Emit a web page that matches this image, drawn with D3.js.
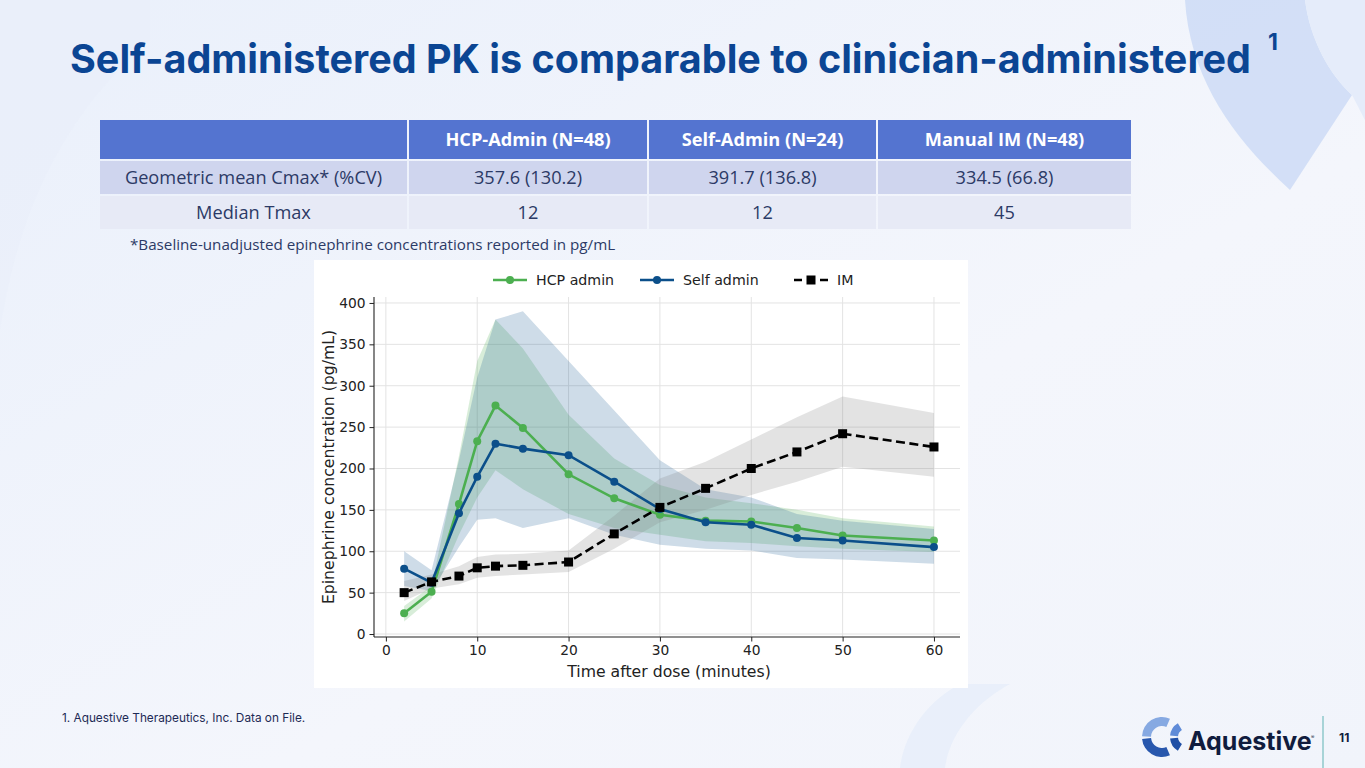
<!DOCTYPE html>
<html>
<head>
<meta charset="utf-8">
<script src="https://cdn.jsdelivr.net/npm/d3@7"></script>
<style>
  body { margin: 0; overflow: hidden; }
  svg { display: block; }
</style>
</head>
<body>
<script>
// page size
const width = 1365;
const height = 768;

// PK data
const times    = [2, 5, 8, 10, 12, 15, 20, 25, 30, 35, 40, 45, 50, 60];
const hcpMean  = [25, 51, 157, 233, 276, 249, 193, 164, 144, 137, 136, 128, 119, 113];
const hcpLow   = [15, 43, 120, 165, 198, 175, 145, 128, 120, 112, 110, 106, 103, 99];
const hcpHigh  = [34, 58, 215, 330, 380, 345, 265, 212, 180, 165, 158, 150, 140, 130];
const selfMean = [79, 62, 146, 190, 230, 224, 216, 184, 151, 135, 132, 116, 113, 105];
const selfLow  = [58, 52, 105, 138, 140, 128, 140, 120, 108, 103, 101, 92, 90, 85];
const selfHigh = [100, 77, 210, 310, 380, 390, 330, 270, 210, 175, 165, 145, 137, 127];
const imMean   = [50, 63, 70, 80, 82, 83, 87, 121, 153, 176, 200, 220, 242, 226];
const imLow    = [40, 55, 60, 68, 70, 72, 75, 103, 135, 150, 168, 184, 202, 190];
const imHigh   = [64, 72, 82, 93, 96, 97, 101, 143, 188, 208, 235, 262, 287, 267];

const xTicks = [0, 10, 20, 30, 40, 50, 60];
const yTicks = [0, 50, 100, 150, 200, 250, 300, 350, 400];

// table data
const tableHeader = ["", "HCP-Admin (N=48)", "Self-Admin (N=24)", "Manual IM (N=48)"];
const tableRow1 = ["Geometric mean Cmax* (%CV)", "357.6 (130.2)", "391.7 (136.8)", "334.5 (66.8)"];
const tableRow2 = ["Median Tmax", "12", "12", "45"];

const svg = d3.select("body")
    .append("svg")
    .attr("width", width)
    .attr("height", height);

// ---------- background ----------
const defs = svg.append("defs");
const bg = defs.append("linearGradient").attr("id", "bg")
    .attr("x1", "0").attr("y1", "0").attr("x2", "1").attr("y2", "1");
bg.append("stop").attr("offset", "0").attr("stop-color", "#eaf0fb");
bg.append("stop").attr("offset", "0.6").attr("stop-color", "#f4f6fc");
bg.append("stop").attr("offset", "1").attr("stop-color", "#f1f4fb");

svg.append("rect").attr("width", width).attr("height", height).attr("fill", "url(#bg)");

// soft decorative shapes
svg.append("path")
    .attr("d", "M1185,0 L1305,0 C1310,40 1330,75 1352,95 L1290,190 C1235,140 1190,80 1185,0 Z")
    .attr("fill", "#cbdaf5").attr("opacity", 0.8);
svg.append("path")
    .attr("d", "M1305,0 L1365,0 L1365,120 L1352,95 C1330,75 1310,40 1305,0 Z")
    .attr("fill", "#e3ebfa").attr("opacity", 0.9);
svg.append("path")
    .attr("d", "M0,330 C20,200 70,110 150,40 L150,0 L0,0 Z")
    .attr("fill", "#e9eefa").attr("opacity", 0.6);
svg.append("path")
    .attr("d", "M900,768 C905,730 930,700 960,684 L1010,684 C980,700 950,730 945,768 Z")
    .attr("fill", "#e6edfa").attr("opacity", 0.8);

// ---------- title ----------
svg.append("text")
    .attr("x", 70)
    .attr("y", 73)
    .style("font-family", "Inter, 'Noto Sans', sans-serif")
    .style("font-weight", 700)
    .style("font-size", "39.5px")
    .attr("fill", "#0b4593")
    .text("Self-administered PK is comparable to clinician-administered");

svg.append("text")
    .attr("x", 1268)
    .attr("y", 50)
    .style("font-family", "Inter, 'Noto Sans', sans-serif")
    .style("font-weight", 700)
    .style("font-size", "23px")
    .attr("fill", "#0b4593")
    .text("1");

// ---------- table ----------
const colEdges = [100, 409, 649, 878, 1133];
const rowDefs = [
    { y: 120, h: 39, fill: "#5474d0", cells: tableHeader, color: "#ffffff", weight: 700 },
    { y: 161, h: 33, fill: "#cfd5ee", cells: tableRow1, color: "#2c3a66", weight: 400 },
    { y: 196, h: 33, fill: "#e7eaf6", cells: tableRow2, color: "#2c3a66", weight: 400 }
];

const table = svg.append("g");
rowDefs.forEach(row => {
    row.cells.forEach((cell, i) => {
        const x0 = colEdges[i];
        const x1 = colEdges[i + 1] - 2;
        table.append("rect")
            .attr("x", x0).attr("y", row.y)
            .attr("width", x1 - x0).attr("height", row.h)
            .attr("fill", row.fill);
        table.append("text")
            .attr("x", (x0 + x1) / 2)
            .attr("y", row.y + row.h / 2 + 6)
            .attr("text-anchor", "middle")
            .style("font-family", "'Open Sans', 'Noto Sans', sans-serif")
            .style("font-size", "18.2px")
            .style("font-weight", row.weight)
            .attr("fill", row.color)
            .text(cell);
    });
});

svg.append("text")
    .attr("x", 130).attr("y", 250)
    .style("font-family", "'Open Sans', 'Noto Sans', sans-serif")
    .style("font-size", "15.2px")
    .attr("fill", "#2c3a66")
    .text("*Baseline-unadjusted epinephrine concentrations reported in pg/mL");

// ---------- chart panel ----------
svg.append("rect")
    .attr("x", 314).attr("y", 260)
    .attr("width", 654).attr("height", 428)
    .attr("fill", "#ffffff");

const x = d3.scaleLinear()
    .domain([-1.3, 62.85])
    .range([374, 960]);

const y = d3.scaleLinear()
    .domain([-3.6, 407.2])
    .range([637, 297]);

const chart = svg.append("g").style("font-family", "'DejaVu Sans', sans-serif");

// grid
chart.append("g").selectAll("line.v")
    .data(xTicks).enter().append("line")
    .attr("x1", d => x(d)).attr("x2", d => x(d))
    .attr("y1", y.range()[0]).attr("y2", y.range()[1])
    .attr("stroke", "#e3e3e3").attr("stroke-width", 1);
chart.append("g").selectAll("line.h")
    .data(yTicks).enter().append("line")
    .attr("x1", x.range()[0]).attr("x2", x.range()[1])
    .attr("y1", d => y(d)).attr("y2", d => y(d))
    .attr("stroke", "#e3e3e3").attr("stroke-width", 1);

// series definitions
const series = [
    { name: "HCP admin", mean: hcpMean, low: hcpLow, high: hcpHigh, color: "#4caf50", band: "#4caf50", bandOpacity: 0.22, dash: null, marker: "circle" },
    { name: "Self admin", mean: selfMean, low: selfLow, high: selfHigh, color: "#0b4f8a", band: "#0b4f8a", bandOpacity: 0.2, dash: null, marker: "circle" },
    { name: "IM", mean: imMean, low: imLow, high: imHigh, color: "#000000", band: "#808080", bandOpacity: 0.22, dash: "9,4.5", marker: "square" }
];

const area = d3.area()
    .x(d => x(d.t))
    .y0(d => y(d.lo))
    .y1(d => y(d.hi));

const line = d3.line()
    .x(d => x(d.t))
    .y(d => y(d.v));

// bands
series.forEach(s => {
    const pts = times.map((t, i) => ({ t: t, lo: s.low[i], hi: s.high[i] }));
    chart.append("path")
        .datum(pts)
        .attr("d", area)
        .attr("fill", s.band)
        .attr("opacity", s.bandOpacity);
});

// lines + markers
series.forEach(s => {
    const pts = times.map((t, i) => ({ t: t, v: s.mean[i] }));
    chart.append("path")
        .datum(pts)
        .attr("d", line)
        .attr("fill", "none")
        .attr("stroke", s.color)
        .attr("stroke-width", 2.6)
        .attr("stroke-dasharray", s.dash);
    if (s.marker === "circle") {
        chart.append("g").selectAll("circle")
            .data(pts).enter().append("circle")
            .attr("cx", d => x(d.t)).attr("cy", d => y(d.v))
            .attr("r", 4)
            .attr("fill", s.color);
    } else {
        chart.append("g").selectAll("rect")
            .data(pts).enter().append("rect")
            .attr("x", d => x(d.t) - 4.5).attr("y", d => y(d.v) - 4.5)
            .attr("width", 9).attr("height", 9)
            .attr("fill", s.color);
    }
});

// axes
const xAxis = d3.axisBottom(x).tickValues(xTicks).tickSize(4.5).tickPadding(4);
const yAxis = d3.axisLeft(y).tickValues(yTicks).tickSize(4.5).tickPadding(4);

const gx = chart.append("g")
    .attr("transform", `translate(0,${y.range()[0]})`)
    .call(xAxis);
const gy = chart.append("g")
    .attr("transform", `translate(${x.range()[0]},0)`)
    .call(yAxis);

[gx, gy].forEach(g => {
    g.select(".domain").attr("stroke", "#222").attr("stroke-width", 1.1);
    g.selectAll(".tick line").attr("stroke", "#222");
    g.selectAll(".tick text")
        .style("font-family", "'DejaVu Sans', sans-serif")
        .style("font-size", "13.8px")
        .attr("fill", "#222");
});
// plain spines, no end caps
gx.select(".domain").attr("d", `M${x.range()[0]},0H${x.range()[1]}`);
gy.select(".domain").attr("d", `M0,${y.range()[0]}V${y.range()[1]}`);

// axis labels
chart.append("text")
    .attr("x", 669).attr("y", 677)
    .attr("text-anchor", "middle")
    .style("font-size", "15.7px")
    .attr("fill", "#222")
    .text("Time after dose (minutes)");

chart.append("text")
    .attr("transform", "translate(334,467) rotate(-90)")
    .attr("text-anchor", "middle")
    .style("font-size", "15.7px")
    .attr("fill", "#222")
    .text("Epinephrine concentration (pg/mL)");

// legend
const legendItems = [
    { s: series[0], x: 493 },
    { s: series[1], x: 640 },
    { s: series[2], x: 794 }
];
const legend = chart.append("g");
legendItems.forEach(item => {
    const s = item.s;
    const ly = 280;
    legend.append("line")
        .attr("x1", item.x).attr("x2", item.x + 34)
        .attr("y1", ly).attr("y2", ly)
        .attr("stroke", s.color).attr("stroke-width", 2.6)
        .attr("stroke-dasharray", s.dash ? "8,5" : null);
    if (s.marker === "circle") {
        legend.append("circle").attr("cx", item.x + 17).attr("cy", ly).attr("r", 4).attr("fill", s.color);
    } else {
        legend.append("rect").attr("x", item.x + 12.5).attr("y", ly - 4.5).attr("width", 9).attr("height", 9).attr("fill", s.color);
    }
    legend.append("text")
        .attr("x", item.x + 43).attr("y", ly + 5)
        .style("font-size", "14.2px")
        .attr("fill", "#222")
        .text(s.name);
});

// ---------- footer ----------
svg.append("text")
    .attr("x", 62).attr("y", 722)
    .style("font-family", "Inter, 'Noto Sans', sans-serif")
    .style("font-size", "11.8px")
    .attr("fill", "#1d2a55")
    .text("1. Aquestive Therapeutics, Inc. Data on File.");

// logo mark: two nested "C" shapes
const arc = d3.arc();
const logo = svg.append("g");
const bigC = logo.append("g").attr("transform", "translate(1162,737)");
bigC.append("path")
    .attr("d", arc({ innerRadius: 11, outerRadius: 20, startAngle: -0.49 * Math.PI, endAngle: 0.13 * Math.PI }))
    .attr("fill", "#86a9e2");
bigC.append("path")
    .attr("d", arc({ innerRadius: 11, outerRadius: 20, startAngle: 0.87 * Math.PI, endAngle: 1.47 * Math.PI }))
    .attr("fill", "#2857ad");
const smallC = logo.append("g").attr("transform", "translate(1186,737)");
smallC.append("path")
    .attr("d", arc({ innerRadius: 8, outerRadius: 16, startAngle: -0.47 * Math.PI, endAngle: -0.17 * Math.PI }))
    .attr("fill", "#5f8bd8");
smallC.append("path")
    .attr("d", arc({ innerRadius: 8, outerRadius: 16, startAngle: 1.17 * Math.PI, endAngle: 1.47 * Math.PI }))
    .attr("fill", "#1f4fa6");

svg.append("text")
    .attr("x", 1188).attr("y", 750)
    .style("font-family", "Inter, 'Noto Sans', sans-serif")
    .style("font-weight", 700)
    .style("font-size", "25px")
    .attr("fill", "#101c3e")
    .text("Aquestive");
svg.append("text")
    .attr("x", 1311).attr("y", 739)
    .style("font-family", "Inter, sans-serif")
    .style("font-size", "5px")
    .attr("fill", "#101c3e")
    .text("®");

svg.append("line")
    .attr("x1", 1323).attr("x2", 1323)
    .attr("y1", 716).attr("y2", 768)
    .attr("stroke", "#5fb3b3").attr("stroke-width", 1);

svg.append("text")
    .attr("x", 1339).attr("y", 742)
    .style("font-family", "Inter, sans-serif")
    .style("font-weight", 700)
    .style("font-size", "12px")
    .attr("fill", "#101c3e")
    .text("11");
</script>
</body>
</html>
